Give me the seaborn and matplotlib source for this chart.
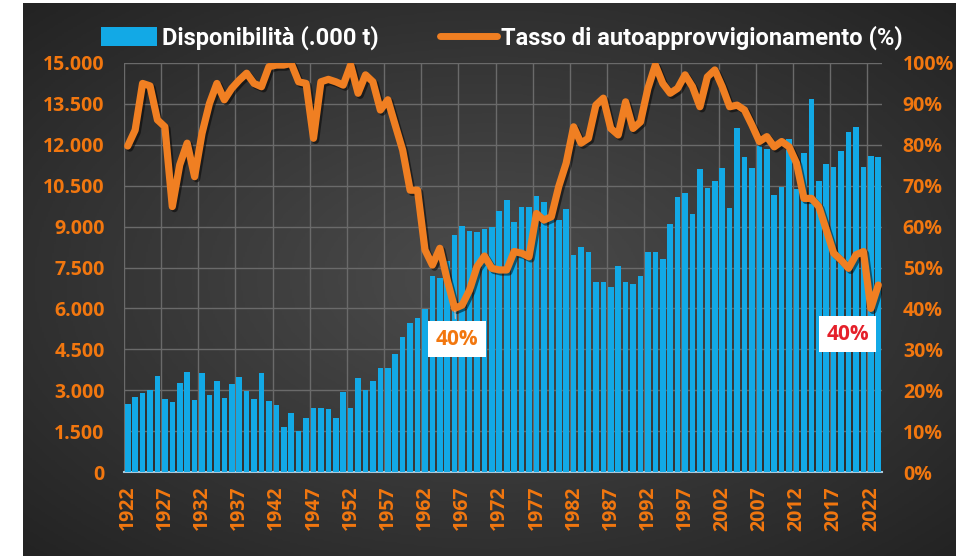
import numpy as np
import pandas as pd
import matplotlib
matplotlib.use("Agg")
import matplotlib.pyplot as plt
import seaborn as sns
from matplotlib import patheffects as pe
from matplotlib.ticker import FuncFormatter
from matplotlib.lines import Line2D
from matplotlib.patches import Patch

years = list(range(1922, 2024))
disponibilita = [
    2490, 2760, 2910, 3010, 3530, 2690, 2580, 3270, 3650, 2650,
    3620, 2810, 3340, 2730, 3210, 3480, 2970, 2690, 3620, 2620,
    2460, 1660, 2180, 1500, 1970, 2330, 2330, 2300, 1980, 2920,
    2330, 3440, 3010, 3340, 3800, 3800, 4330, 4940, 5480, 5660,
    5970, 7200, 7130, 7740, 8690, 9030, 8840, 8790, 8910, 9000,
    9570, 9970, 9180, 9730, 9730, 10130, 9890, 9500, 9240, 9640,
    7960, 8240, 8080, 6980, 6980, 6770, 7550, 6980, 6880, 7190,
    8060, 8060, 7810, 9090, 10100, 10240, 9450, 11110, 10400, 10680,
    11160, 9670, 12600, 11560, 11160, 11950, 11840, 10160, 10440, 12200,
    10370, 11710, 13680, 10670, 11280, 11200, 11770, 12480, 12660, 11200,
    11600, 11560,
]
autoapprovvigionamento = [
    79.7, 83.6, 95.0, 94.4, 86.1, 84.4, 64.9, 75.1, 80.4, 72.2,
    82.8, 90.1, 95.0, 91.0, 93.8, 95.8, 97.5, 95.0, 94.2, 99.1,
    99.5, 99.5, 99.9, 95.4, 95.0, 81.6, 95.4, 96.0, 95.4, 94.6,
    99.5, 92.6, 97.1, 95.4, 88.5, 91.0, 84.8, 78.7, 68.9, 68.9,
    54.3, 50.6, 54.7, 46.9, 40.0, 40.8, 44.5, 50.2, 52.8, 49.8,
    49.4, 49.4, 53.9, 53.5, 52.6, 63.2, 61.6, 62.4, 69.8, 75.5,
    84.4, 80.4, 81.6, 89.7, 91.4, 84.0, 82.4, 90.5, 84.0, 85.6,
    93.8, 99.5, 95.0, 92.6, 93.8, 97.1, 94.2, 89.3, 96.6, 98.3,
    94.2, 89.3, 89.7, 88.5, 84.8, 80.8, 82.0, 79.5, 80.8, 79.5,
    75.5, 66.9, 66.9, 64.9, 59.2, 53.5, 51.8, 49.8, 53.1, 53.9,
    40.0, 45.7,
]
tick_years = list(range(1922, 2023, 5))
left_ticks = list(range(0, 15001, 1500))
right_ticks = list(range(0, 101, 10))
label_bar = "Disponibilità (.000 t)"
label_line = "Tasso di autoapprovvigionamento (%)"
annot_1 = "40%"
annot_2 = "40%"

df = pd.DataFrame({"anno": years, "disp": disponibilita, "tasso": autoapprovvigionamento})

BLUE = "#12A9E6"
ORANGE = "#F07F22"
TICK = "#F2770F"
RED = "#E5202A"
FONT = ["Open Sans", "DejaVu Sans"]

sns.set_theme(style="dark")
plt.rcParams["font.family"] = FONT

fig = plt.figure(figsize=(9.56, 5.56), dpi=100, facecolor="white")

# background radial gradient
bg = fig.add_axes([23 / 956, 0, 933 / 956, 553 / 556], zorder=-5)
yy, xx = np.mgrid[-1:1:300j, -1:1:500j]
r = np.sqrt((xx * 0.9) ** 2 + (yy * 0.9) ** 2)
bg.imshow(-r, cmap=matplotlib.colors.LinearSegmentedColormap.from_list(
    "g", ["#232323", "#383838", "#4c4c4c"]), aspect="auto", extent=[0, 1, 0, 1])
bg.set_axis_off()

ax = fig.add_axes([124 / 956, 1 - 472 / 556, 758 / 956, 409 / 556])
ax.set_facecolor("none")

sns.barplot(data=df, x="anno", y="disp", native_scale=True, color=BLUE,
            saturation=1, width=0.75, ax=ax, zorder=3, edgecolor="none", linewidth=0)
ax.set_xlim(1921.5, 2023.5)
ax.set_ylim(0, 15000)
ax.set_yticks(left_ticks)
ax.yaxis.set_major_formatter(FuncFormatter(lambda v, p: f"{int(v):,}".replace(",", ".")))
ax.set_xticks(tick_years)
ax.set_xticks(np.arange(1921.5, 2024, 5), minor=True)
ax.set_xticklabels([str(y) for y in tick_years], rotation=90)
ax.set_xlabel("")
ax.set_ylabel("")
ax.grid(False)
ax.grid(True, axis="y", which="major", color="#6a6a6a", lw=1, zorder=0)
ax.grid(True, axis="x", which="minor", color="#6a6a6a", lw=1, zorder=0)
for s in ["top", "left", "right"]:
    ax.spines[s].set_visible(False)
ax.spines["bottom"].set_color("#a8c8dc")
ax.spines["bottom"].set_linewidth(1.5)
ax.tick_params(axis="both", which="both", length=0)
ax.tick_params(axis="y", labelsize=14, labelcolor=TICK, pad=14)
ax.tick_params(axis="x", labelsize=14, labelcolor=TICK, pad=10)
for t in ax.get_yticklabels() + ax.get_xticklabels():
    t.set_fontweight("bold")

ax2 = ax.twinx()
ax2.set_facecolor("none")
sns.lineplot(data=df, x="anno", y="tasso", color=ORANGE, lw=5.2, ax=ax2,
             path_effects=[pe.SimpleLineShadow(offset=(1.5, -1.5), shadow_color="black", alpha=0.5), pe.Normal()],
             zorder=5)
ax2.set_ylim(0, 100)
ax2.set_yticks(right_ticks)
ax2.yaxis.set_major_formatter(FuncFormatter(lambda v, p: f"{int(v)}%"))
ax2.set_ylabel("")
ax2.grid(False)
for s in ["top", "left", "right", "bottom"]:
    ax2.spines[s].set_visible(False)
ax2.tick_params(axis="y", length=0, labelsize=14, labelcolor=TICK, pad=15)
for t in ax2.get_yticklabels():
    t.set_fontweight("bold")
ax2.set_xlim(1921.5, 2023.5)

box = dict(boxstyle="square,pad=0.35", facecolor="white", edgecolor="none")
ax2.annotate(annot_1, xy=(1966, 40), xytext=(1966.3, 32.5), ha="center", va="center",
             fontsize=15, fontweight="bold", color=TICK, bbox=box, zorder=6,
             arrowprops=dict(arrowstyle="-", color="#bbbbbb", lw=1))
ax2.text(2018.9, 33.7, annot_2, ha="center", va="center", fontsize=15,
         fontweight="bold", color=RED, bbox=box, zorder=6)

handles = [Patch(facecolor=BLUE, edgecolor="none"),
           Line2D([0], [0], color=ORANGE, lw=5)]
leg = fig.legend(handles, [label_bar, label_line], loc="center", bbox_to_anchor=(0.525, 0.932),
                 ncol=2, frameon=False, handlelength=2.4, handleheight=0.9, handletextpad=0.2,
                 columnspacing=2.6, prop=dict(size=17, weight="bold", family=["Roboto", "DejaVu Sans"]))
for t in leg.get_texts():
    t.set_color("white")

fig.savefig("out.png", dpi=100, facecolor="white")
